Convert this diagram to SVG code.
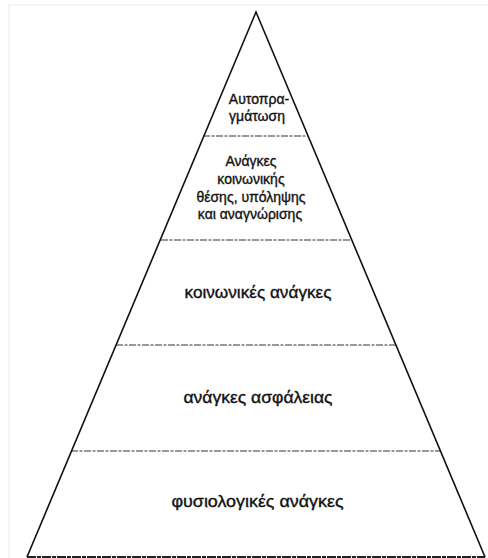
<svg xmlns="http://www.w3.org/2000/svg" width="488" height="558" viewBox="0 0 488 558">
<style>
.edge{fill:none;stroke:#111;stroke-width:1.6;stroke-linejoin:miter}
.div{fill:none;stroke:#333;stroke-width:1;stroke-dasharray:7 1.5 3 1.5}
.base{fill:none;stroke:#222;stroke-width:1.8;stroke-dasharray:9 1 4 1}
.scan{fill:none;stroke:#fbefe6;stroke-width:1.5}
.t{font-family:"Liberation Sans","DejaVu Sans",sans-serif;fill:#111;stroke:#111;stroke-width:0.35;text-anchor:middle}
.s{font-size:14px}
.m{font-size:16px}
</style>
<rect width="488" height="558" fill="#fff"/>
<polyline class="scan" points="9,558 9,5 488,5"/>
<g id="connectors">
<line class="div" x1="203" y1="136" x2="308" y2="136"/>
<line class="div" x1="161" y1="240" x2="350" y2="240"/>
<line class="div" x1="116" y1="345" x2="396" y2="345"/>
<line class="div" x1="71" y1="451" x2="441" y2="451"/>
<line class="base" x1="27" y1="557" x2="485" y2="557"/>
</g>
<g id="pyramid">
<polyline class="edge" points="27,557 256,12 485,557"/>
</g>
<g id="level5">
<text class="t s" x="259" y="104">Αυτοπρα-</text>
<text class="t s" x="257" y="121">γμάτωση</text>
</g>
<g id="level4">
<text class="t s" x="251" y="166">Ανάγκες</text>
<text class="t s" x="251" y="184">κοινωνικής</text>
<text class="t s" x="251" y="201.5">θέσης, υπόληψης</text>
<text class="t s" x="250" y="219">και αναγνώρισης</text>
</g>
<g id="level3">
<text class="t m" x="258" y="298" textLength="147" lengthAdjust="spacingAndGlyphs">κοινωνικές ανάγκες</text>
</g>
<g id="level2">
<text class="t m" x="258" y="403" textLength="149" lengthAdjust="spacingAndGlyphs">ανάγκες ασφάλειας</text>
</g>
<g id="level1">
<text class="t m" x="257.5" y="507" textLength="172" lengthAdjust="spacingAndGlyphs">φυσιολογικές ανάγκες</text>
</g>
</svg>
